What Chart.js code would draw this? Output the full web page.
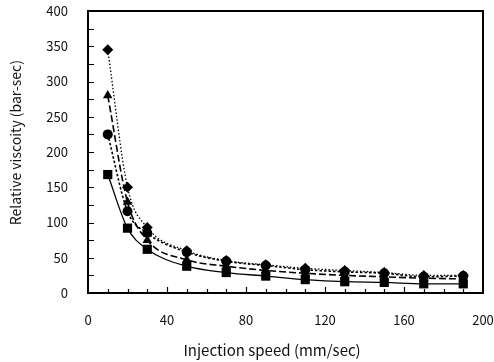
<!DOCTYPE html>
<html>
<head>
<meta charset="utf-8">
<script src="https://cdn.jsdelivr.net/npm/chart.js@4/dist/chart.umd.min.js"></script>
<style>
html,body{margin:0;padding:0;background:#fff;}
#wrap{width:494px;height:362px;position:relative;}
</style>
</head>
<body>
<div id="wrap"><canvas id="c" width="494" height="362"></canvas></div>
<script>
const speeds = [10, 20, 30, 50, 70, 90, 110, 130, 150, 170, 190];
const diamondSeries  = [345, 150, 93, 60, 46, 40, 35, 32, 29, 25, 25];
const triangleSeries = [280, 129, 75, 47, 38, 32, 28, 25, 23, 21, 20];
const circleSeries   = [225, 116, 85, 58, 45, 39, 33, 30, 28, 23, 24];
const squareSeries   = [168, 92, 62, 38, 29, 24, 19, 16, 15, 13, 13];
const xTickLabels = [0, 40, 80, 120, 160, 200];
const yTickLabels = [0, 50, 100, 150, 200, 250, 300, 350, 400];

const FONT = "'Noto Sans CJK KR', 'Noto Sans', sans-serif";
const NB = '\u00a0';

function mk(label, data, style, dash, width, radius) {
  return {
    label, data: speeds.map((x, i) => ({x, y: data[i]})),
    borderColor: '#000', backgroundColor: '#000',
    borderWidth: width, borderDash: dash,
    pointStyle: style, pointRadius: radius, pointHoverRadius: radius,
    pointBorderWidth: 0, cubicInterpolationMode: 'monotone', fill: false
  };
}

const frame = {
  id: 'frame',
  afterDraw(chart) {
    const {ctx, chartArea: a, scales} = chart;
    ctx.save();
    ctx.strokeStyle = '#000';
    ctx.lineWidth = 2;
    ctx.strokeRect(a.left, a.top, a.right - a.left, a.bottom - a.top);
    ctx.lineWidth = 1.2;
    ctx.beginPath();
    for (let v = 10; v < 200; v += 10) {
      const px = Math.round(scales.x.getPixelForValue(v)) + 0.5;
      const len = (v % 40 === 0) ? 6 : 4;
      ctx.moveTo(px, a.bottom); ctx.lineTo(px, a.bottom - len);
    }
    for (let v = 25; v < 400; v += 25) {
      const py = Math.round(scales.y.getPixelForValue(v)) + 0.5;
      ctx.moveTo(a.left, py); ctx.lineTo(a.left + 6, py);
    }
    ctx.stroke();
    ctx.restore();
  }
};

new Chart(document.getElementById('c'), {
  type: 'line',
  data: {
    datasets: [
      mk('Diamond', diamondSeries, 'rectRot', [1.5, 2], 1.3, 5.5),
      mk('Circle', circleSeries, 'circle', [2.5, 2], 1.6, 5),
      mk('Triangle', triangleSeries, 'triangle', [7, 3], 1.6, 5.5),
      mk('Square', squareSeries, 'rect', [], 1.3, 6.5)
    ]
  },
  options: {
    responsive: false, animation: false,
    layout: {padding: {top: 11, right: 11, left: 0, bottom: 0}},
    plugins: {legend: {display: false}, tooltip: {enabled: false}},
    scales: {
      x: {
        type: 'linear', min: 0, max: 200,
        afterBuildTicks(s) { s.ticks = xTickLabels.map(v => ({value: v})); },
        afterFit(s) { s.height = 69; s.paddingLeft = 0; s.paddingRight = 0; },
        grid: {display: false, drawTicks: false},
        border: {display: true, color: '#000', width: 2},
        ticks: {color: '#111', font: {family: FONT, size: 13}, padding: 19, maxRotation: 0},
        title: {display: true, text: 'Injection speed (mm/sec)' + NB.repeat(8), color: '#111',
                font: {family: FONT, size: 15}, padding: {top: 5, bottom: 3}}
      },
      y: {
        type: 'linear', min: 0, max: 400,
        afterBuildTicks(s) { s.ticks = yTickLabels.map(v => ({value: v})); },
        afterFit(s) { s.width = 88; s.paddingTop = 0; s.paddingBottom = 0; },
        grid: {display: false, drawTicks: false},
        border: {display: true, color: '#000', width: 2},
        ticks: {color: '#111', font: {family: FONT, size: 13}, padding: 20},
        title: {display: true, text: NB.repeat(6) + 'Relative viscoity (bar-sec)', color: '#111',
                font: {family: FONT, size: 14}, padding: {top: 7, bottom: 0}}
      }
    }
  },
  plugins: [frame]
});
</script>
</body>
</html>
